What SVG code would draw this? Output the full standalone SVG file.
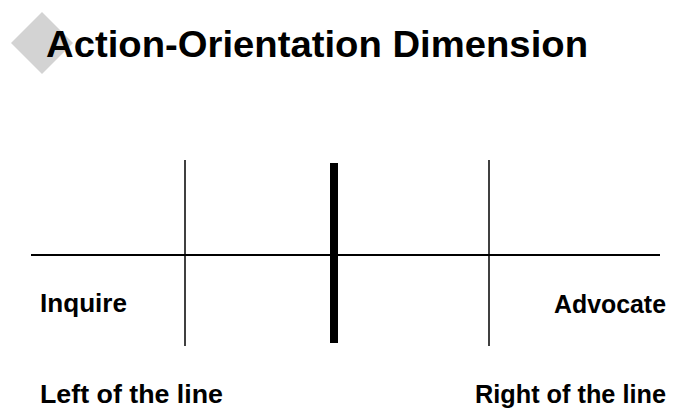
<svg xmlns="http://www.w3.org/2000/svg" width="674" height="411" viewBox="0 0 674 411">
<style>
.t{font-family:"Liberation Sans",Arial,sans-serif;font-weight:bold;fill:#000}
.thin{stroke:#000;stroke-width:1.5}
</style>
<rect width="674" height="411" fill="#fff"/>
<g id="title">
<polygon points="42,12 73,43 42,74 11,43" fill="#d3d3d3"/>
<text class="t" x="46" y="57" font-size="36" textLength="542" lengthAdjust="spacingAndGlyphs">Action-Orientation Dimension</text>
</g>
<g id="connectors">
<line x1="31" y1="255" x2="660" y2="255" stroke="#000" stroke-width="2"/>
<line class="thin" x1="185" y1="160" x2="185" y2="346"/>
<line class="thin" x1="489" y1="160" x2="489" y2="346"/>
<line x1="334" y1="163" x2="334" y2="343" stroke="#000" stroke-width="8"/>
</g>
<g id="inquire"><text class="t" x="40" y="312" font-size="25" textLength="87" lengthAdjust="spacingAndGlyphs">Inquire</text></g>
<g id="advocate"><text class="t" x="554" y="313" font-size="25" textLength="112" lengthAdjust="spacingAndGlyphs">Advocate</text></g>
<g id="left"><text class="t" x="40" y="403" font-size="26" textLength="183" lengthAdjust="spacingAndGlyphs">Left of the line</text></g>
<g id="right"><text class="t" x="475" y="403" font-size="26" textLength="191" lengthAdjust="spacingAndGlyphs">Right of the line</text></g>
</svg>
